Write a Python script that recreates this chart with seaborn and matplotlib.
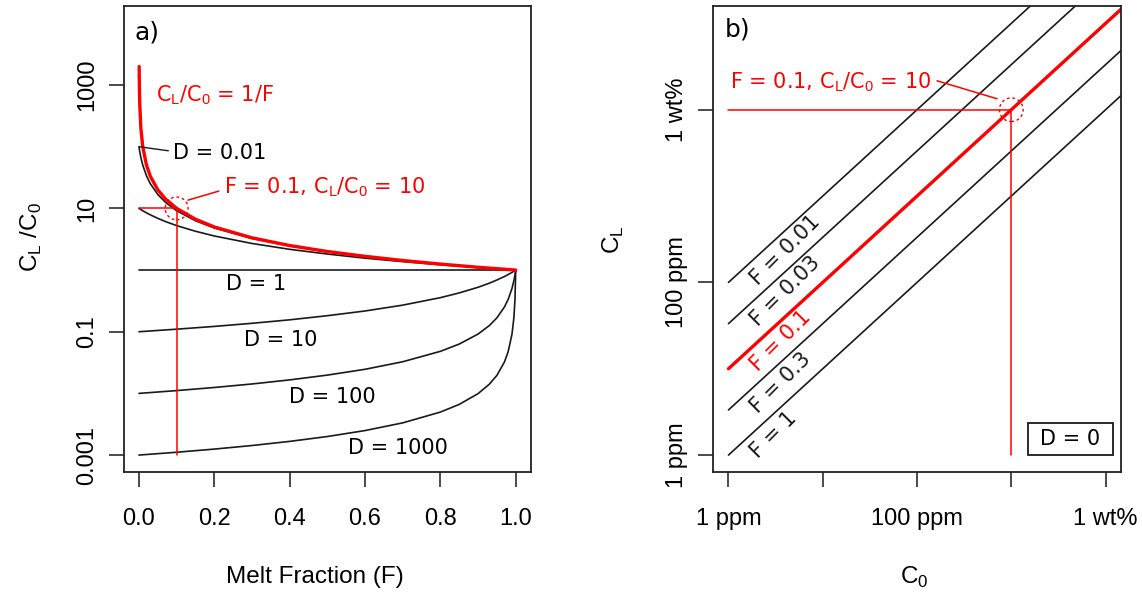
import numpy as np
import pandas as pd
import matplotlib
matplotlib.use("Agg")
import matplotlib.pyplot as plt
import seaborn as sns
from matplotlib.patches import Rectangle
from matplotlib.ticker import NullLocator

# ---- panel a) batch melting, C_L/C_0 against melt fraction F ----
f_low = [0, 0.002, 0.005, 0.01, 0.02, 0.03, 0.05, 0.07, 0.1, 0.15, 0.2,
         0.3, 0.4, 0.5, 0.6, 0.7, 0.8, 0.9, 1.0]
d_001 = [100, 83.5, 66.9, 50.3, 33.6, 25.2, 16.8, 12.6, 9.17, 6.31, 4.81,
         3.26, 2.46, 1.98, 1.66, 1.42, 1.25, 1.11, 1.0]
d_01 = [10, 9.82, 9.57, 9.17, 8.47, 7.87, 6.90, 6.13, 5.26, 4.26, 3.57,
        2.70, 2.17, 1.82, 1.56, 1.37, 1.22, 1.10, 1.0]
f_flat = [0, 1.0]
d_1 = [1.0, 1.0]
f_high = [0, 0.1, 0.2, 0.3, 0.4, 0.5, 0.6, 0.7, 0.8, 0.85, 0.9, 0.93,
          0.95, 0.97, 0.98, 0.99, 0.995, 0.998, 1.0]
d_10 = [0.1, 0.110, 0.122, 0.137, 0.156, 0.182, 0.217, 0.270, 0.357, 0.426,
        0.526, 0.613, 0.690, 0.787, 0.847, 0.917, 0.957, 0.982, 1.0]
d_100 = [0.01, 0.0111, 0.01247, 0.01422, 0.01656, 0.0198, 0.0246, 0.0326,
         0.0481, 0.0631, 0.0917, 0.126, 0.168, 0.252, 0.336, 0.503, 0.669,
         0.835, 1.0]
d_1000 = [0.001, 0.001111, 0.00125, 0.001428, 0.001666, 0.001998, 0.002496,
          0.003326, 0.00498, 0.00663, 0.00991, 0.0141, 0.0196, 0.0323,
          0.0477, 0.0910, 0.1668, 0.3336, 1.0]
# D -> 0 limit, C_L/C_0 = 1/F
f_red = [0.0005, 0.001, 0.002, 0.005, 0.01, 0.02, 0.03, 0.05, 0.07, 0.1,
         0.15, 0.2, 0.3, 0.4, 0.5, 0.6, 0.7, 0.8, 0.9, 1.0]
c_red = [2000, 1000, 500, 200, 100, 50, 33.3, 20, 14.3, 10, 6.67, 5, 3.33,
         2.5, 2, 1.67, 1.43, 1.25, 1.11, 1.0]

# ---- panel b) D = 0, C_L against C_0 (ppm) ----
f_lines = [0.01, 0.03, 0.1, 0.3, 1]
c0_ends = [1, 1e5]
cl_start = [100, 33.3, 10, 3.33, 1]
cl_end = [1e7, 3.33e6, 1e6, 3.33e5, 1e5]

sns.set_style("ticks")
plt.rcParams["font.family"] = ["Liberation Sans", "DejaVu Sans"]
plt.rcParams["mathtext.fontset"] = "custom"
plt.rcParams["mathtext.rm"] = "Liberation Sans"
for k in ["text.color", "axes.labelcolor", "xtick.color", "ytick.color"]:
    plt.rcParams[k] = "black"
plt.rcParams["axes.edgecolor"] = "#222222"

IN = dict(family="DejaVu Sans", fontsize=15)
RED = "#ff0000"
BLK = "#1a1a1a"

fig = plt.figure(figsize=(11.42, 5.96), dpi=100)
ax1 = fig.add_axes([0.1085, 0.2075, 0.3563, 0.7822])
ax2 = fig.add_axes([0.6247, 0.2075, 0.3566, 0.7822])

# panel a
curves = pd.DataFrame({
    "F": f_low + f_low + f_flat + f_high + f_high + f_high,
    "C": d_001 + d_01 + d_1 + d_10 + d_100 + d_1000,
    "D": (["0.01"] * len(f_low) + ["0.1"] * len(f_low) + ["1"] * 2
          + ["10"] * len(f_high) + ["100"] * len(f_high)
          + ["1000"] * len(f_high)),
})
sns.lineplot(data=curves, x="F", y="C", units="D", estimator=None,
             color=BLK, lw=1.2, legend=False, ax=ax1)
sns.lineplot(x=f_red, y=c_red, color=RED, lw=2.4, ax=ax1)
ax1.set_yscale("log")
ax1.plot([0, 0.1], [10, 10], color=RED, lw=1.1)
ax1.plot([0.1, 0.1], [0.001, 10], color=RED, lw=1.1)
ax1.scatter([0.1], [10], s=270, facecolors="none", edgecolors=RED,
            linewidths=1.0, linestyle=(0, (2, 2)), zorder=5)

ax1.set_xlim(-0.04, 1.04)
ax1.set_ylim(10 ** -3.28, 10 ** 4.28)
ax1.set_xticks([0, 0.2, 0.4, 0.6, 0.8, 1.0])
ax1.set_xticklabels(["0.0", "0.2", "0.4", "0.6", "0.8", "1.0"])
ax1.set_yticks([0.001, 0.1, 10, 1000])
ax1.set_yticklabels(["0.001", "0.1", "10", "1000"])
ax1.yaxis.set_minor_locator(NullLocator())

ax1.text(0.027, 0.944, "a)", transform=ax1.transAxes, ha="left",
         va="center", family="DejaVu Sans", fontsize=18)
ax1.text(0.045, 690, r"C$_\mathrm{L}$/C$_\mathrm{0}$ = 1/F", color=RED,
         ha="left", va="center", **IN)
ax1.plot([0.0005, 0.078], [100, 86], color=BLK, lw=1.0)
ax1.text(0.089, 78, "D = 0.01", ha="left", va="center", **IN)
ax1.plot([0.212, 0.130], [19.1, 13.6], color=RED, lw=1.1)
ax1.text(0.226, 22.2, r"F = 0.1, C$_\mathrm{L}$/C$_\mathrm{0}$ = 10",
         color=RED, ha="left", va="center", **IN)
d_text = [("D = 1", 0.31, 0.59), ("D = 10", 0.377, 0.073),
          ("D = 100", 0.512, 0.0087), ("D = 1000", 0.688, 0.0013)]
for s, x, y in d_text:
    ax1.text(x, y, s, ha="center", va="center", **IN)

ax1.set_xlabel("Melt Fraction (F)", fontsize=17.5)
ax1.xaxis.set_label_coords(0.47, -0.225)
ax1.xaxis.label.set_va("center")
ax1.set_ylabel(r"C$_\mathrm{L}$ /C$_\mathrm{0}$", fontsize=17.5)
ax1.yaxis.set_label_coords(-0.228, 0.505)
ax1.yaxis.label.set_va("center")

# panel b
lines = pd.DataFrame({
    "C0": c0_ends * len(f_lines),
    "CL": [v for pair in zip(cl_start, cl_end) for v in pair],
    "F": [f for f in f_lines for _ in c0_ends],
})
black = lines[lines["F"] != 0.1]
red = lines[lines["F"] == 0.1]
sns.lineplot(data=black, x="C0", y="CL", units="F", estimator=None,
             color=BLK, lw=1.2, legend=False, ax=ax2)
sns.lineplot(data=red, x="C0", y="CL", color=RED, lw=2.4, legend=False,
             ax=ax2)
ax2.set_xscale("log")
ax2.set_yscale("log")
ax2.plot([1, 1000], [1e4, 1e4], color=RED, lw=1.1)
ax2.plot([1000, 1000], [1, 1e4], color=RED, lw=1.1)
ax2.scatter([1000], [1e4], s=290, facecolors="none", edgecolors=RED,
            linewidths=1.0, linestyle=(0, (2, 2)), zorder=5)

for f in f_lines:
    x_lab = 1.85
    ax2.text(x_lab, x_lab / f * 0.55, f"F = {f:g}", rotation=45,
             rotation_mode="anchor", ha="left", va="center",
             color=RED if f == 0.1 else BLK, **IN)

ax2.plot([163, 706], [21640, 13400], color=RED, lw=1.1)
ax2.text(1.04, 21080, r"F = 0.1, C$_\mathrm{L}$/C$_\mathrm{0}$ = 10",
         color=RED, ha="left", va="center", **IN)
ax2.text(0.028, 0.949, "b)", transform=ax2.transAxes, ha="left",
         va="center", family="DejaVu Sans", fontsize=18)
ax2.add_patch(Rectangle((0.772, 0.0371), 0.2087, 0.0693,
                        transform=ax2.transAxes, fill=False,
                        edgecolor=BLK, lw=1.3, zorder=6))
ax2.text(0.876, 0.0724, "D = 0", transform=ax2.transAxes, ha="center",
         va="center", **IN)

ax2.set_xlim(10 ** -0.16, 10 ** 4.16)
ax2.set_ylim(10 ** -0.2, 10 ** 5.2)
ax2.set_xticks([1, 10, 100, 1000, 10000])
ax2.set_xticklabels(["1 ppm", "", "100 ppm", "", "1 wt%"])
ax2.set_yticks([1, 100, 10000])
ax2.set_yticklabels(["1 ppm", "100 ppm", "1 wt%"])
ax2.xaxis.set_minor_locator(NullLocator())
ax2.yaxis.set_minor_locator(NullLocator())

ax2.set_xlabel(r"C$_\mathrm{0}$", fontsize=17.5)
ax2.xaxis.set_label_coords(0.4926, -0.225)
ax2.xaxis.label.set_va("center")
ax2.set_ylabel(r"C$_\mathrm{L}$", fontsize=17.5)
ax2.yaxis.set_label_coords(-0.2466, 0.5)
ax2.yaxis.label.set_va("center")

for ax in (ax1, ax2):
    for sp in ax.spines.values():
        sp.set_linewidth(1.3)
        sp.set_visible(True)
    ax.tick_params(axis="both", length=10.8, width=1.1, labelsize=17,
                   color=BLK)
    ax.tick_params(axis="x", pad=15)
    ax.tick_params(axis="y", pad=7.5, labelrotation=90)
    for lab in ax.get_yticklabels():
        lab.set_va("center")

fig.savefig("out.png", dpi=100)
